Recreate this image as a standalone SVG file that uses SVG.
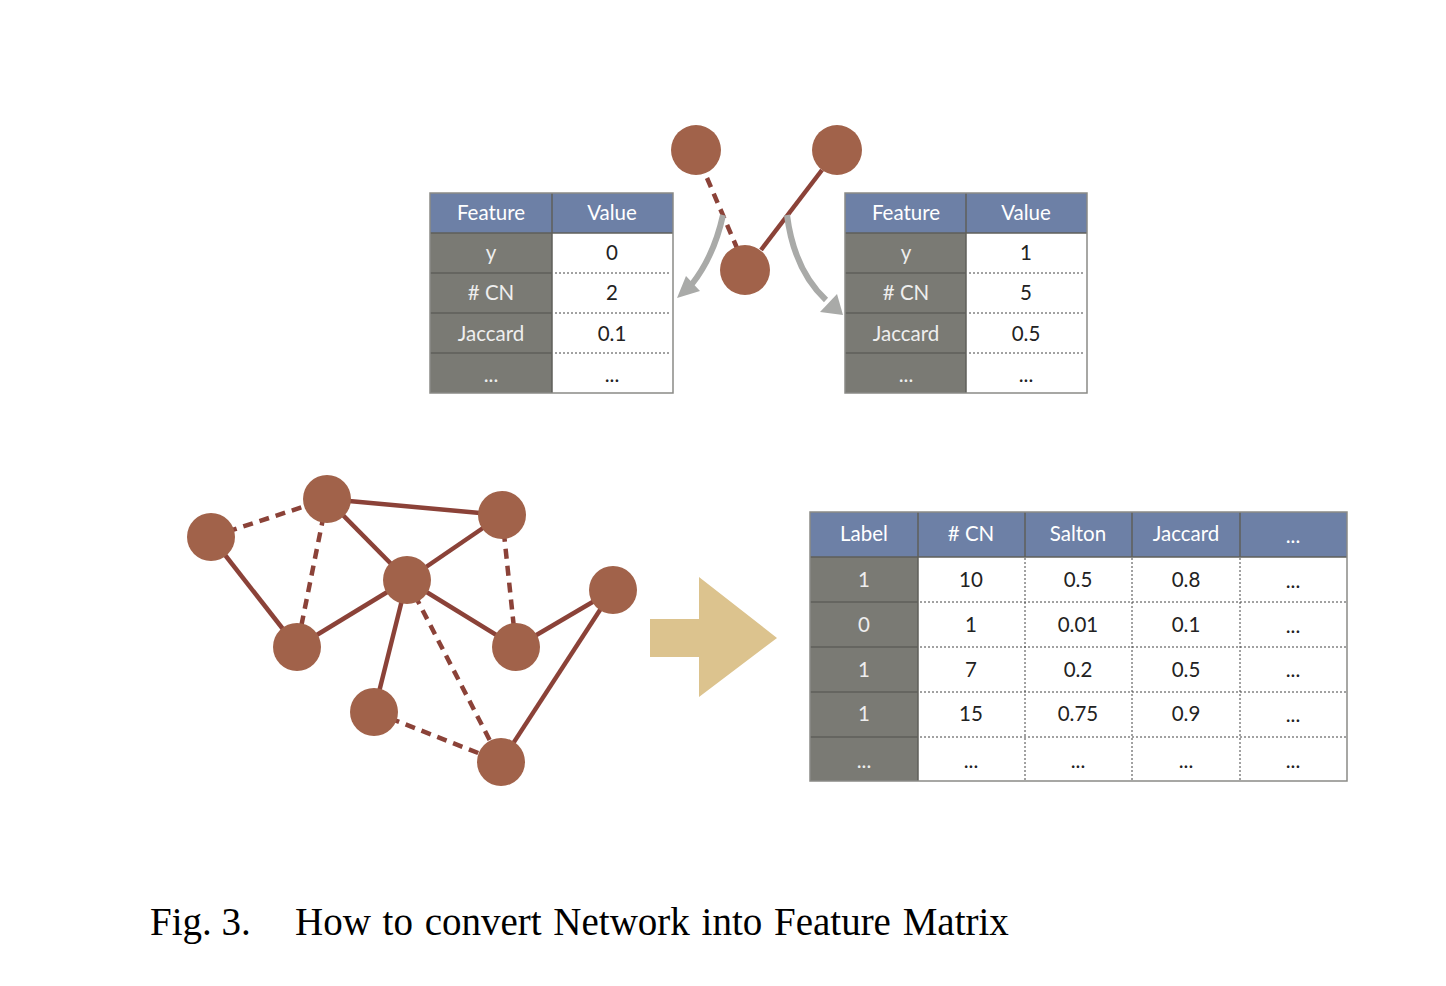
<svg xmlns="http://www.w3.org/2000/svg" width="1446" height="986" viewBox="0 0 1446 986">
<style>
.hdr{fill:#6d80a6}
.gry{fill:#7a7a74}
.wht{fill:#ffffff}
.frame{fill:none;stroke:#8a8a86;stroke-width:1.5}
.gline{stroke:#5f5f5a;stroke-width:1.5}
.dot{stroke:#444;stroke-width:1;stroke-dasharray:2 2}
.ht{font-family:Lato,"Open Sans",sans-serif;font-size:20.5px;fill:#ffffff;text-anchor:middle}
.gt{font-family:Lato,"Open Sans",sans-serif;font-size:20.5px;fill:#eeeeee;text-anchor:middle}
.vt{font-family:Lato,"Open Sans",sans-serif;font-size:20.5px;fill:#222222;text-anchor:middle}
.node{fill:#a1624a}
.edge{stroke:#8b4238;stroke-width:4.5;fill:none}
.dash{stroke-dasharray:10 7}
.garrow{stroke:#a9aaa8;stroke-width:6;fill:none}
.ghead{fill:#a9aaa8}
.cap{font-family:"Liberation Serif","Times New Roman",serif;font-size:39px;fill:#000}
</style>

<g id="connectors">
  <line class="edge dash" x1="707" y1="178" x2="737" y2="248"/>
  <line class="edge" x1="822" y1="170" x2="761" y2="250"/>
  <path class="garrow" d="M723,215 Q714,256 692,284"/>
  <polygon class="ghead" points="677,298 686,276 700,291"/>
  <path class="garrow" d="M787,215 Q794,270 826,300"/>
  <polygon class="ghead" points="843,315 820,312 837,294"/>
  <line class="edge dash" x1="211" y1="537" x2="327" y2="499"/>
  <line class="edge" x1="211" y1="537" x2="297" y2="647"/>
  <line class="edge" x1="327" y1="499" x2="502" y2="515"/>
  <line class="edge" x1="327" y1="499" x2="407" y2="580"/>
  <line class="edge dash" x1="327" y1="499" x2="297" y2="647"/>
  <line class="edge" x1="502" y1="515" x2="407" y2="580"/>
  <line class="edge dash" x1="502" y1="515" x2="516" y2="647"/>
  <line class="edge" x1="407" y1="580" x2="297" y2="647"/>
  <line class="edge" x1="407" y1="580" x2="516" y2="647"/>
  <line class="edge" x1="407" y1="580" x2="374" y2="712"/>
  <line class="edge dash" x1="407" y1="580" x2="501" y2="762"/>
  <line class="edge" x1="516" y1="647" x2="613" y2="590"/>
  <line class="edge" x1="613" y1="590" x2="501" y2="762"/>
  <line class="edge dash" x1="374" y1="712" x2="501" y2="762"/>
</g>

<g id="top-nodes">
  <circle id="tn1" class="node" cx="696" cy="150" r="25"/>
  <circle id="tn2" class="node" cx="837" cy="150" r="25"/>
  <circle id="tn3" class="node" cx="745" cy="270" r="25"/>
</g>

<g id="table-left">
  <rect class="hdr" x="430" y="193" width="243" height="40"/>
  <rect class="gry" x="430" y="233" width="122" height="160"/>
  <rect class="wht" x="552" y="233" width="121" height="160"/>
  <line class="gline" x1="430" y1="233" x2="673" y2="233"/>
  <line class="gline" x1="552" y1="193" x2="552" y2="393"/>
  <line class="gline" x1="430" y1="273" x2="552" y2="273"/>
  <line class="gline" x1="430" y1="313" x2="552" y2="313"/>
  <line class="gline" x1="430" y1="353" x2="552" y2="353"/>
  <line class="dot" x1="555" y1="273" x2="671" y2="273"/>
  <line class="dot" x1="555" y1="313" x2="671" y2="313"/>
  <line class="dot" x1="555" y1="353" x2="671" y2="353"/>
  <rect class="frame" x="430" y="193" width="243" height="200"/>
  <text class="ht" x="491" y="220">Feature</text>
  <text class="ht" x="612" y="220">Value</text>
  <text class="gt" x="491" y="260">y</text>
  <text class="gt" x="491" y="300">#&#160;CN</text>
  <text class="gt" x="491" y="341">Jaccard</text>
  <text class="gt" x="491" y="382">...</text>
  <text class="vt" x="612" y="260">0</text>
  <text class="vt" x="612" y="300">2</text>
  <text class="vt" x="612" y="341">0.1</text>
  <text class="vt" x="612" y="382">...</text>
</g>

<g id="table-right">
  <rect class="hdr" x="845" y="193" width="242" height="40"/>
  <rect class="gry" x="845" y="233" width="121" height="160"/>
  <rect class="wht" x="966" y="233" width="121" height="160"/>
  <line class="gline" x1="845" y1="233" x2="1087" y2="233"/>
  <line class="gline" x1="966" y1="193" x2="966" y2="393"/>
  <line class="gline" x1="845" y1="273" x2="966" y2="273"/>
  <line class="gline" x1="845" y1="313" x2="966" y2="313"/>
  <line class="gline" x1="845" y1="353" x2="966" y2="353"/>
  <line class="dot" x1="969" y1="273" x2="1085" y2="273"/>
  <line class="dot" x1="969" y1="313" x2="1085" y2="313"/>
  <line class="dot" x1="969" y1="353" x2="1085" y2="353"/>
  <rect class="frame" x="845" y="193" width="242" height="200"/>
  <text class="ht" x="906" y="220">Feature</text>
  <text class="ht" x="1026" y="220">Value</text>
  <text class="gt" x="906" y="260">y</text>
  <text class="gt" x="906" y="300">#&#160;CN</text>
  <text class="gt" x="906" y="341">Jaccard</text>
  <text class="gt" x="906" y="382">...</text>
  <text class="vt" x="1026" y="260">1</text>
  <text class="vt" x="1026" y="300">5</text>
  <text class="vt" x="1026" y="341">0.5</text>
  <text class="vt" x="1026" y="382">...</text>
</g>

<g id="network-nodes">
  <circle id="nA" class="node" cx="211" cy="537" r="24"/>
  <circle id="nB" class="node" cx="327" cy="499" r="24"/>
  <circle id="nC" class="node" cx="502" cy="515" r="24"/>
  <circle id="nD" class="node" cx="407" cy="580" r="24"/>
  <circle id="nE" class="node" cx="297" cy="647" r="24"/>
  <circle id="nF" class="node" cx="516" cy="647" r="24"/>
  <circle id="nG" class="node" cx="613" cy="590" r="24"/>
  <circle id="nH" class="node" cx="374" cy="712" r="24"/>
  <circle id="nI" class="node" cx="501" cy="762" r="24"/>
</g>

<g id="big-arrow">
  <polygon fill="#dcc38e" points="650,619 699,619 699,577 777,638 699,697 699,657 650,657"/>
</g>

<g id="feature-matrix">
  <rect class="hdr" x="810" y="512" width="537" height="45"/>
  <rect class="gry" x="810" y="557" width="108" height="224"/>
  <rect class="wht" x="918" y="557" width="429" height="224"/>
  <line class="gline" x1="810" y1="557" x2="1347" y2="557"/>
  <line class="gline" x1="918" y1="512" x2="918" y2="781"/>
  <line class="gline" x1="1025" y1="512" x2="1025" y2="557"/>
  <line class="gline" x1="1132" y1="512" x2="1132" y2="557"/>
  <line class="gline" x1="1240" y1="512" x2="1240" y2="557"/>
  <line class="gline" x1="810" y1="602" x2="918" y2="602"/>
  <line class="gline" x1="810" y1="647" x2="918" y2="647"/>
  <line class="gline" x1="810" y1="692" x2="918" y2="692"/>
  <line class="gline" x1="810" y1="737" x2="918" y2="737"/>
  <line class="dot" x1="920" y1="602" x2="1346" y2="602"/>
  <line class="dot" x1="920" y1="647" x2="1346" y2="647"/>
  <line class="dot" x1="920" y1="692" x2="1346" y2="692"/>
  <line class="dot" x1="920" y1="737" x2="1346" y2="737"/>
  <line class="dot" x1="1025" y1="558" x2="1025" y2="780"/>
  <line class="dot" x1="1132" y1="558" x2="1132" y2="780"/>
  <line class="dot" x1="1240" y1="558" x2="1240" y2="780"/>
  <rect class="frame" x="810" y="512" width="537" height="269"/>
  <text class="ht" x="864" y="541">Label</text>
  <text class="ht" x="971" y="541">#&#160;CN</text>
  <text class="ht" x="1078" y="541">Salton</text>
  <text class="ht" x="1186" y="541">Jaccard</text>
  <text class="ht" x="1293" y="543">...</text>
  <text class="gt" x="864" y="587">1</text>
  <text class="gt" x="864" y="632">0</text>
  <text class="gt" x="864" y="677">1</text>
  <text class="gt" x="864" y="721">1</text>
  <text class="gt" x="864" y="768">...</text>
  <text class="vt" x="971" y="587">10</text>
  <text class="vt" x="971" y="632">1</text>
  <text class="vt" x="971" y="677">7</text>
  <text class="vt" x="971" y="721">15</text>
  <text class="vt" x="971" y="768">...</text>
  <text class="vt" x="1078" y="587">0.5</text>
  <text class="vt" x="1078" y="632">0.01</text>
  <text class="vt" x="1078" y="677">0.2</text>
  <text class="vt" x="1078" y="721">0.75</text>
  <text class="vt" x="1078" y="768">...</text>
  <text class="vt" x="1186" y="587">0.8</text>
  <text class="vt" x="1186" y="632">0.1</text>
  <text class="vt" x="1186" y="677">0.5</text>
  <text class="vt" x="1186" y="721">0.9</text>
  <text class="vt" x="1186" y="768">...</text>
  <text class="vt" x="1293" y="588">...</text>
  <text class="vt" x="1293" y="633">...</text>
  <text class="vt" x="1293" y="677">...</text>
  <text class="vt" x="1293" y="722">...</text>
  <text class="vt" x="1293" y="768">...</text>
</g>

<g id="caption">
  <text class="cap" x="150" y="935">Fig. 3.</text>
  <text class="cap" x="295" y="935" word-spacing="2">How to convert Network into Feature Matrix</text>
</g>
</svg>
